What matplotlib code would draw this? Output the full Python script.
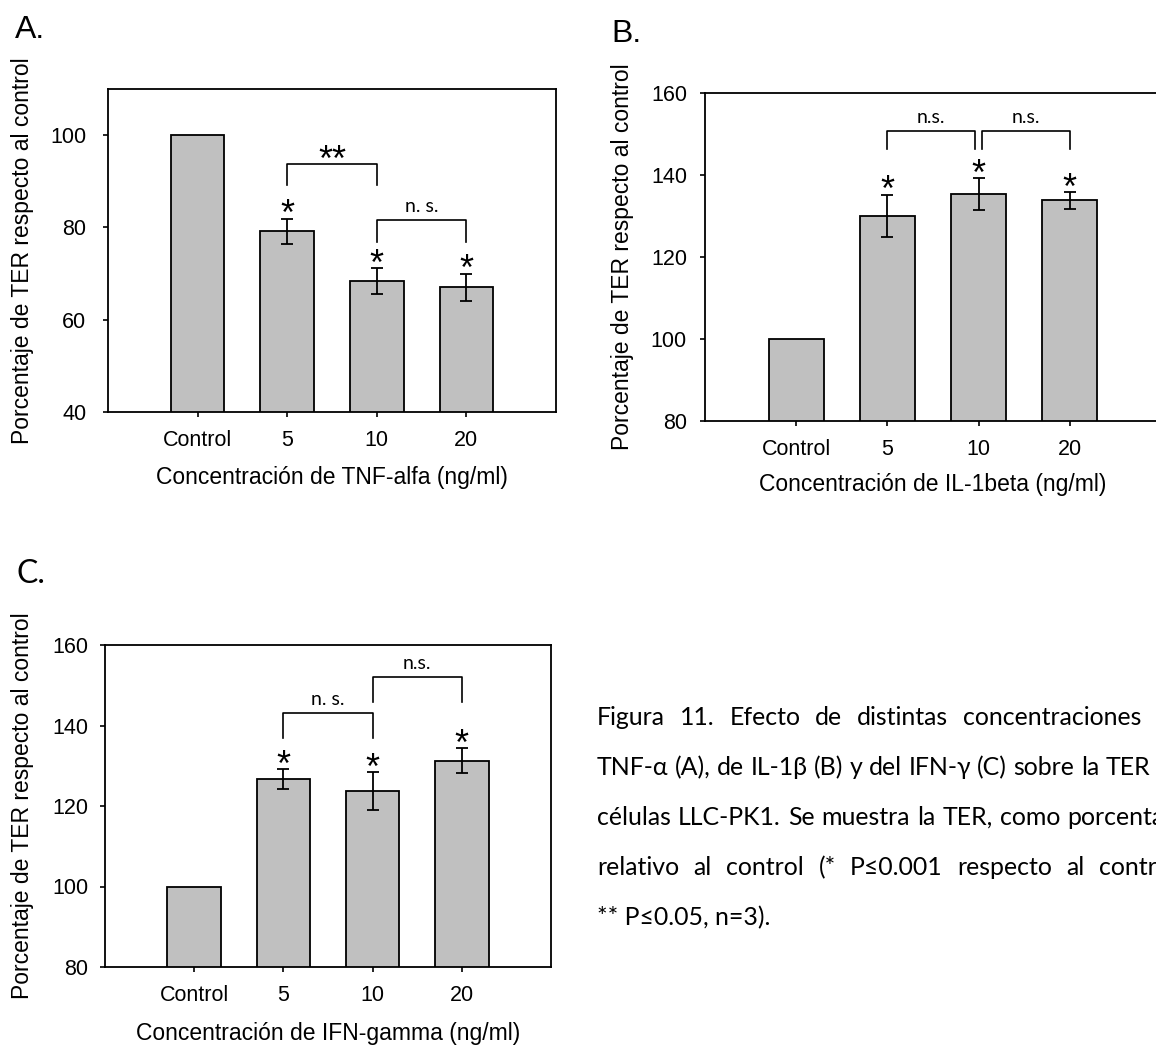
import matplotlib
matplotlib.use('Agg')
import matplotlib.pyplot as plt
import numpy as np

plt.rcParams['font.family'] = ['Liberation Sans', 'DejaVu Sans']

# ---- data ----
categories = ['Control', '5', '10', '20']

tnf_values = [100, 79.2, 68.3, 67.0]
tnf_errors = [0, 2.7, 2.8, 3.0]

il1_values = [100, 130.0, 135.4, 133.8]
il1_errors = [0, 5.2, 3.9, 2.1]

ifn_values = [100, 126.7, 123.7, 131.2]
ifn_errors = [0, 2.5, 4.8, 3.1]

# comparison brackets: (from bar, to bar, bracket y, leg bottom y, label)
# bar positions: Control=1, 5=2, 10=3, 20=4
tnf_brackets = [(2, 3, 93.7, 89.2, '**'), (3, 4, 81.6, 76.8, 'n. s.')]
il1_brackets = [(2, 2.96, 150.7, 146.3, 'n.s.'), (3.04, 4, 150.7, 146.3, 'n.s.')]
ifn_brackets = [(2, 3, 143.1, 136.9, 'n. s.'), (3, 4, 152.0, 145.8, 'n.s.')]

caption_lines = [
    'Figura 11. Efecto de distintas concentraciones de',
    'TNF-α (A), de IL-1β (B) y del IFN-γ (C) sobre la TER de',
    'células LLC-PK1. Se muestra la TER, como porcentaje',
    'relativo al control (* P≤0.001 respecto al control;',
    '** P≤0.05, n=3).',
]

W, H = 1156, 1048
fig = plt.figure(figsize=(W / 100, H / 100), dpi=100)

STAR_FS = 26


def star(ax, x, y, text='*', gap_px=14):
    # place an asterisk so that its visual centre sits gap_px above y
    off = gap_px * 0.72 - 0.575 * STAR_FS
    ax.annotate(text, xy=(x, y), xytext=(0, off), textcoords='offset points',
                ha='center', va='baseline', fontsize=STAR_FS)


def panel(rect, values, errors, brackets, ylim, yticks, xlabel, ypad, xlab_y, ylab_x):
    ax = fig.add_axes(rect)
    x = np.arange(1, len(categories) + 1)
    ax.bar(x, values, width=0.6, color='#c0c0c0', edgecolor='black', linewidth=1.3, zorder=2)
    err = np.array(errors)
    m = err > 0
    ax.errorbar(x[m], np.array(values)[m], yerr=err[m], fmt='none', ecolor='black',
                elinewidth=1.3, capsize=4.5, capthick=1.3, zorder=3)
    for xi, v, e in zip(x[m], np.array(values)[m], err[m]):
        star(ax, xi, v + e)
    for x0, x1, yb, yl, lab in brackets:
        ax.plot([x0, x0, x1, x1], [yl, yb, yb, yl], color='black', lw=1.2, zorder=3)
        if lab == '**':
            star(ax, (x0 + x1) / 2, yb, '**', gap_px=14)
        else:
            ax.annotate(lab, xy=((x0 + x1) / 2, yb), xytext=(0, 6), textcoords='offset points',
                        ha='center', va='baseline', fontsize=14,
                        family=['Lato', 'DejaVu Sans'])
    ax.set_xlim(0, 5)
    ax.set_ylim(*ylim)
    ax.set_yticks(yticks)
    ax.set_xticks(x)
    ax.set_xticklabels(categories)
    ax.tick_params(axis='both', direction='out', labelsize=15.5, width=1.2)
    ax.tick_params(axis='x', length=3.8, pad=9.5)
    ax.tick_params(axis='y', length=3.5, pad=ypad)
    for s in ax.spines.values():
        s.set_linewidth(1.3)
    ax.set_xlabel(xlabel, fontsize=16.5)
    ax.set_ylabel('Porcentaje de TER respecto al control', fontsize=16.5)
    ax.xaxis.set_label_coords(0.5, xlab_y)
    ax.yaxis.set_label_coords(ylab_x, 0.5)
    return ax


panel([108 / W, 1 - 412 / H, 448 / W, 323 / H], tnf_values, tnf_errors, tnf_brackets,
      (40, 110), [40, 60, 80, 100], 'Concentración de TNF-alfa (ng/ml)', 12, -0.167, -0.165)
panel([705 / W, 1 - 421 / H, 456 / W, 328 / H], il1_values, il1_errors, il1_brackets,
      (80, 160), [80, 100, 120, 140, 160], 'Concentración de IL-1beta (ng/ml)', 9.5, -0.159, -0.156)
panel([105 / W, 1 - 967 / H, 446 / W, 322 / H], ifn_values, ifn_errors, ifn_brackets,
      (80, 160), [80, 100, 120, 140, 160], 'Concentración de IFN-gamma (ng/ml)', 8.5, -0.171, -0.159)

fig.text(15 / W, 1 - 38 / H, 'A.', fontsize=23, va='baseline')
fig.text(611 / W, 1 - 42 / H, 'B.', fontsize=23, va='baseline')
fig.text(17 / W, 1 - 583 / H, 'C.', fontsize=23, va='baseline', family=['Lato', 'DejaVu Sans'])

# ---- justified caption (continues past the right edge, as in the page scan) ----
cap_family = ['Lato', 'Noto Sans', 'DejaVu Sans']
fig.canvas.draw()
renderer = fig.canvas.get_renderer()
left_px = 597
baselines = [725, 775, 825, 875, 925]


def text_width(s, fs):
    t = fig.text(0, 0, s, fontsize=fs, family=cap_family)
    w = t.get_window_extent(renderer).width
    t.remove()
    return w


# size chosen so that "... sobre la TER" on line 2 just ends before the page edge
cap_fs = 20 * (1150 - left_px) / text_width(caption_lines[1].rsplit(' ', 1)[0], 20)
right_px = left_px + max(text_width(l, cap_fs) for l in caption_lines[:4])

for line, yb in zip(caption_lines, baselines):
    if line is caption_lines[-1]:
        fig.text(left_px / W, 1 - yb / H, line, fontsize=cap_fs, family=cap_family, va='baseline')
        continue
    words = line.split(' ')
    texts = [fig.text(0, 1 - yb / H, w, fontsize=cap_fs, family=cap_family, va='baseline')
             for w in words]
    widths = [t.get_window_extent(renderer).width for t in texts]
    gap = (right_px - left_px - sum(widths)) / (len(words) - 1)
    xpos = left_px
    for t, wd in zip(texts, widths):
        t.set_x(xpos / W)
        xpos += wd + gap

fig.savefig('out.png', dpi=100)
